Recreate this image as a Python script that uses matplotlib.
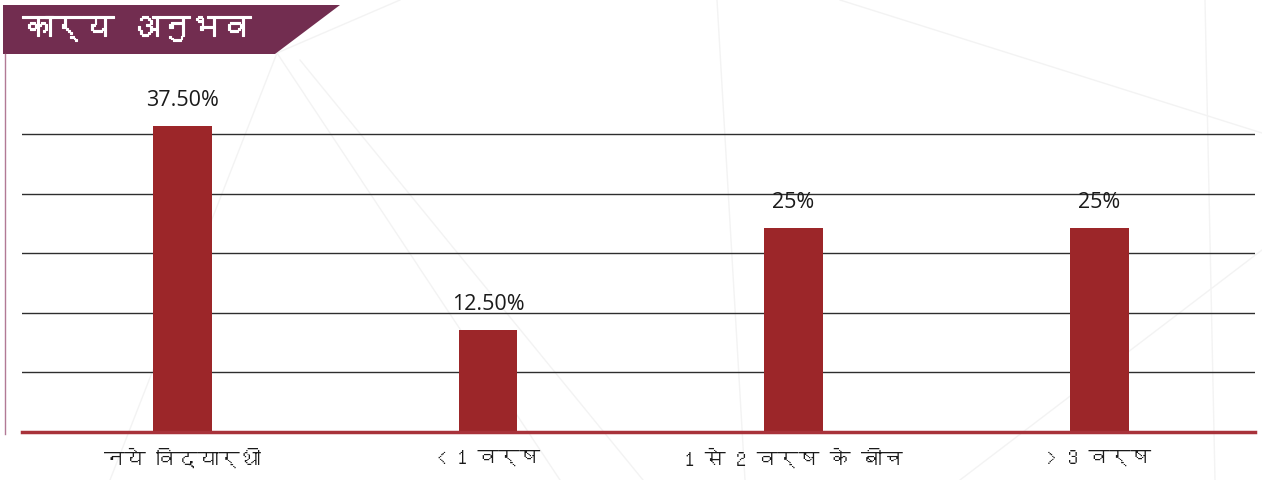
import matplotlib
matplotlib.use("Agg")
import matplotlib.pyplot as plt
import matplotlib.patheffects as pe
from matplotlib import font_manager
from matplotlib.ft2font import FT2Font
from matplotlib.patches import Polygon
from matplotlib.lines import Line2D

# ---------------- data ----------------
title = "कार्य अनुभव"
categories = ["नये विद्यार्थी", "< 1 वर्ष", "1 से 2 वर्ष के बीच", "> 3 वर्ष"]
values = [37.5, 12.5, 25.0, 25.0]
value_labels = ["37.50%", "12.50%", "25%", "25%"]

# ------------- font lookup (Devanagari capable, if any) -------------
deva_family = None
for fe in font_manager.fontManager.ttflist:
    try:
        cmap = FT2Font(fe.fname).get_charmap()
        if 0x0915 in cmap and 0x094D in cmap:
            deva_family = fe.name
            break
    except Exception:
        pass
label_families = ([deva_family] if deva_family else []) + ["Open Sans", "DejaVu Sans"]
num_family = ["Open Sans", "DejaVu Sans"]

W, H = 1262, 480
fig = plt.figure(figsize=(W / 100, H / 100), dpi=100)
fig.patch.set_facecolor("white")

def fx(px):
    return px / W

def fy(py):
    return 1 - py / H

# faint background geometry
bg_lines = [
    ((277, 53), (400, 0)), ((277, 53), (110, 480)), ((277, 53), (560, 480)),
    ((300, 60), (643, 480)), ((840, 0), (1262, 133)), ((1205, 0), (1215, 480)),
    ((717, 0), (745, 480)), ((1262, 250), (960, 480)),
]
for (x0, y0), (x1, y1) in bg_lines:
    fig.add_artist(Line2D([fx(x0), fx(x1)], [fy(y0), fy(y1)], color="#f3f3f3",
                          lw=1.0, transform=fig.transFigure, zorder=0))

# banner
banner = Polygon([(fx(3), fy(5)), (fx(340), fy(5)), (fx(275), fy(54)), (fx(3), fy(54))],
                 closed=True, transform=fig.transFigure, facecolor="#722d50",
                 edgecolor="none", zorder=2)
fig.add_artist(banner)
fig.text(fx(22), fy(29), title, color="white", fontsize=22, fontweight="bold",
         family=label_families, va="center", ha="left", zorder=3,
         path_effects=[pe.withStroke(linewidth=0.8, foreground="white")])

# left vertical rule
fig.add_artist(Line2D([fx(4.5), fx(4.5)], [fy(54), fy(434)], color="#b27a95", lw=1.0,
                      transform=fig.transFigure, zorder=2))

# axes
ax = fig.add_axes([fx(22), fy(432), fx(1255) - fx(22), (432 - 40) / H])
ax.patch.set_alpha(0)
ax.set_xlim(-0.525, 3.51)
ax.set_ylim(0, 392 / 8.16)

x = list(range(len(categories)))
for k in range(1, 6):
    ax.axhline(7.3 * k, color="#2e2e2e", lw=1.0, zorder=1)

ax.bar(x, values, width=0.193, color="#9c2629", zorder=3)
ax.axhline(0, color="#a8323a", lw=2.5, zorder=4, clip_on=False)

for xi, v, lab in zip(x, values, value_labels):
    ax.annotate(lab, (xi, v), xytext=(0, 11), textcoords="offset points",
                ha="center", va="bottom", fontsize=15.5, family=num_family,
                color="#1a1a1a")

ax.set_xticks(x)
ax.set_xticklabels(categories, fontsize=15, family=label_families, color="#1a1a1a")
ax.tick_params(axis="x", length=0, pad=12)
ax.set_yticks([])
for s in ax.spines.values():
    s.set_visible(False)

fig.savefig("out.png", dpi=100, facecolor="white")
